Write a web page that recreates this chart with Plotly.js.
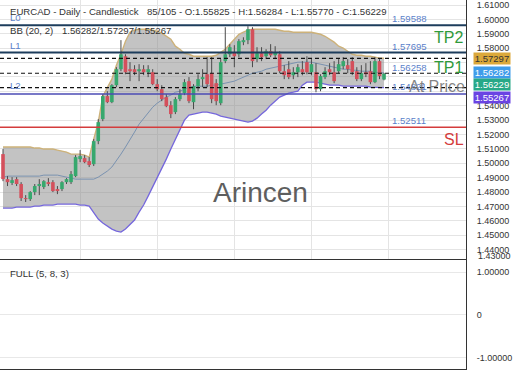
<!DOCTYPE html>
<html><head><meta charset="utf-8">
<script src="https://cdn.plot.ly/plotly-3.0.1.min.js"></script>
<style>html,body{margin:0;padding:0;background:#fff}#chart{width:520px;height:390px}</style>
</head><body><div id="chart"></div>
<script>
// ---- data ----
const openP = [1.5064,1.4890,1.4863,1.4890,1.4856,1.4758,1.4751,1.4800,1.4842,1.4835,
1.4869,1.4869,1.4821,1.4821,1.4869,1.4869,1.4911,1.5029,1.5036,1.5015,
1.4994,1.5154,1.5307,1.5467,1.5425,1.5543,1.5654,1.5744,1.5654,1.5654,
1.5640,1.5654,1.5633,1.5633,1.5550,1.5515,1.5460,1.5404,1.5356,1.5446,
1.5488,1.5571,1.5425,1.5536,1.5585,1.5619,1.5626,1.5557,1.5418,1.5710,
1.5758,1.5772,1.5758,1.5842,1.5856,1.5932,1.5724,1.5765,1.5744,1.5779,
1.5751,1.5758,1.5640,1.5654,1.5612,1.5633,1.5654,1.5703,1.5633,1.5633,
1.5515,1.5599,1.5654,1.5633,1.5640,1.5675,1.5682,1.5710,1.5640,1.5585,
1.5633,1.5640,1.5564,1.5710,1.55825];
const highP = [1.5099,1.4911,1.4904,1.4904,1.4869,1.4779,1.4807,1.4856,1.4890,1.4883,
1.4897,1.4883,1.4842,1.4876,1.4897,1.4946,1.5057,1.5092,1.5057,1.5043,
1.5168,1.5307,1.5481,1.5501,1.5550,1.5668,1.5856,1.5758,1.5703,1.5682,
1.5689,1.5682,1.5682,1.5654,1.5585,1.5543,1.5481,1.5432,1.5460,1.5515,
1.5585,1.5599,1.5550,1.5619,1.5654,1.5738,1.5738,1.5585,1.5724,1.5946,
1.5828,1.5821,1.5863,1.5876,1.5953,1.5946,1.5807,1.5807,1.5793,1.5828,
1.5814,1.5779,1.5682,1.5710,1.5668,1.5689,1.5710,1.5744,1.5724,1.5696,
1.5619,1.5668,1.5696,1.5710,1.5724,1.5738,1.5724,1.5738,1.5668,1.5682,
1.5696,1.5710,1.5738,1.5724,1.56284];
const lowP = [1.4876,1.4842,1.4849,1.4842,1.4738,1.4731,1.4738,1.4779,1.4779,1.4821,
1.4842,1.4800,1.4786,1.4807,1.4856,1.4856,1.4904,1.5008,1.5001,1.4974,
1.4981,1.5133,1.5293,1.5418,1.5418,1.5529,1.5640,1.5619,1.5571,1.5613,
1.5571,1.5613,1.5599,1.5543,1.5501,1.5432,1.5390,1.5314,1.5342,1.5432,
1.5474,1.5418,1.5376,1.5501,1.5529,1.5529,1.5418,1.5404,1.5404,1.5696,
1.5738,1.5668,1.5738,1.5821,1.5828,1.5668,1.5703,1.5710,1.5724,1.5738,
1.5724,1.5626,1.5585,1.5585,1.5585,1.5599,1.5612,1.5619,1.5612,1.5494,
1.5501,1.5585,1.5613,1.5557,1.5626,1.5654,1.5626,1.5613,1.5571,1.5571,
1.5599,1.5550,1.5557,1.5585,1.55770];
const closeP = [1.4890,1.4869,1.4883,1.4856,1.4758,1.4751,1.4800,1.4842,1.4856,1.4876,
1.4856,1.4807,1.4807,1.4869,1.4890,1.4925,1.5043,1.5050,1.5008,1.4988,
1.5154,1.5286,1.5467,1.5425,1.5543,1.5654,1.5758,1.5633,1.5640,1.5633,
1.5654,1.5633,1.5654,1.5550,1.5515,1.5446,1.5397,1.5342,1.5446,1.5481,
1.5564,1.5432,1.5536,1.5585,1.5599,1.5550,1.5446,1.5432,1.5703,1.5758,
1.5807,1.5744,1.5849,1.5856,1.5932,1.5710,1.5765,1.5738,1.5779,1.5751,
1.5772,1.5640,1.5612,1.5599,1.5633,1.5668,1.5633,1.5633,1.5689,1.5515,
1.5606,1.5640,1.5633,1.5571,1.5689,1.5710,1.5654,1.5633,1.5585,1.5626,
1.5619,1.5564,1.5710,1.5606,1.56229];
const bbUpper = [1.5113,1.5113,1.5113,1.5113,1.5113,1.5113,1.5113,1.5106,1.5106,1.5099,
1.5099,1.5099,1.5092,1.5085,1.5078,1.5064,1.5064,1.5064,1.5057,1.5043,
1.5168,1.5286,1.5467,1.5529,1.5585,1.5682,1.5758,1.5849,1.5911,1.5925,
1.5932,1.5932,1.5932,1.5925,1.5918,1.5904,1.5883,1.5863,1.5814,1.5793,
1.5765,1.5758,1.5744,1.5744,1.5744,1.5744,1.5744,1.5751,1.5772,1.5793,
1.5828,1.5863,1.5897,1.5911,1.5925,1.5932,1.5932,1.5932,1.5932,1.5932,
1.5932,1.5925,1.5918,1.5918,1.5911,1.5911,1.5911,1.5911,1.5911,1.5904,
1.5897,1.5883,1.5863,1.5842,1.5814,1.5800,1.5779,1.5758,1.5751,1.5751,
1.5744,1.5744,1.5738,1.5731,1.57297];
const bbMid = [1.4904,1.4911,1.4911,1.4911,1.4911,1.4911,1.4911,1.4911,1.4911,1.4918,
1.4918,1.4918,1.4918,1.4911,1.4904,1.4897,1.4890,1.4890,1.4890,1.4890,
1.4890,1.4904,1.4925,1.4946,1.4974,1.5015,1.5064,1.5113,1.5161,1.5217,
1.5272,1.5314,1.5356,1.5390,1.5418,1.5439,1.5460,1.5474,1.5494,1.5501,
1.5515,1.5529,1.5536,1.5536,1.5536,1.5536,1.5543,1.5543,1.5550,1.5557,
1.5564,1.5571,1.5585,1.5599,1.5613,1.5626,1.5633,1.5640,1.5654,1.5661,
1.5668,1.5675,1.5682,1.5689,1.5696,1.5703,1.5703,1.5703,1.5703,1.5696,
1.5689,1.5682,1.5675,1.5668,1.5661,1.5654,1.5654,1.5647,1.5647,1.5640,
1.5640,1.5640,1.5633,1.5633,1.56282];
const bbLower = [1.4689,1.4689,1.4689,1.4696,1.4696,1.4696,1.4696,1.4703,1.4703,1.4710,
1.4710,1.4710,1.4717,1.4717,1.4717,1.4717,1.4717,1.4710,1.4710,1.4703,
1.4654,1.4613,1.4585,1.4564,1.4543,1.4529,1.4522,1.4543,1.4571,1.4606,
1.4661,1.4710,1.4772,1.4835,1.4897,1.4960,1.5029,1.5099,1.5168,1.5238,
1.5300,1.5335,1.5342,1.5349,1.5356,1.5356,1.5349,1.5342,1.5328,1.5321,
1.5314,1.5307,1.5300,1.5293,1.5286,1.5293,1.5314,1.5342,1.5369,1.5404,
1.5432,1.5460,1.5474,1.5488,1.5494,1.5501,1.5543,1.5564,1.5564,1.5564,
1.5557,1.5550,1.5543,1.5543,1.5543,1.5536,1.5536,1.5536,1.5536,1.5536,
1.5536,1.5529,1.5529,1.5529,1.55267];
const levelL0 = 1.59588;
const levelL1 = 1.57695;
const levelTP1 = 1.56258;
const levelL2 = 1.54821;
const levelSL = 1.52511;
const dashedLevels = [1.57297, 1.56258, 1.55267];
const gridBars = [17, 34, 51, 68, 85];
const totalBars = 105;
const priceTicks = [1.44,1.45,1.46,1.47,1.48,1.49,1.50,1.51,1.52,1.53,1.54,1.55,1.56,1.57,1.58,1.59,1.60,1.61];
const hiddenPriceTicks = [1.55, 1.56, 1.57]; // covered by the value badges in the reference
const oscTicks = [-1, 0, 1];
const oscTickText = ['-1.00000', '0', '1.00000'];

// ---- build traces ----
const n = closeP.length;
const idx = closeP.map((_, i) => i);
const wx = [], wy = [], gx = [], gy = [], rx = [], ry = [];
for (let i = 0; i < n; i++) {
  wx.push(i, i, null); wy.push(lowP[i], highP[i], null);
  if (closeP[i] >= openP[i]) { gx.push(i, i, null); gy.push(openP[i], closeP[i], null); }
  else { rx.push(i, i, null); ry.push(openP[i], closeP[i], null); }
}
const FONT = 'Liberation Sans, Arial, sans-serif';
const traces = [
  {x: idx, y: bbLower, mode: 'lines', line: {color: '#7567dc', width: 1.3}, hoverinfo: 'skip'},
  {x: idx, y: bbUpper, mode: 'lines', fill: 'tonexty', fillcolor: 'rgba(135,135,135,0.5)', line: {color: '#cdb27a', width: 1.4}, hoverinfo: 'skip'},
  {x: idx, y: bbMid, mode: 'lines', line: {color: '#7a92b0', width: 1}, hoverinfo: 'skip'},
  {x: wx, y: wy, mode: 'lines', line: {color: '#4a4a4a', width: 1}, hoverinfo: 'skip'},
  {x: gx, y: gy, mode: 'lines', line: {color: '#37a86e', width: 3.6}, hoverinfo: 'skip'},
  {x: rx, y: ry, mode: 'lines', line: {color: '#d4505c', width: 3.6}, hoverinfo: 'skip'},
  {x: [0], y: [0], xaxis: 'x2', yaxis: 'y2', mode: 'markers', marker: {opacity: 0}, hoverinfo: 'skip'}
];

// ---- layout helpers ----
const W = 466, H = 369;
const px = v => v / W;
const py = v => 1 - v / H;
const levelShape = (y, color, width, dash) => ({type: 'line', xref: 'paper', yref: 'y', x0: 0, x1: 1, y0: y, y1: y, line: {color, width, dash: dash || 'solid'}});
const shapes = [
  levelShape(levelL0, '#1d3d5c', 2),
  levelShape(levelL1, '#1d3d5c', 2),
  levelShape(levelL2, '#4b4bb5', 1.5),
  levelShape(levelSL, '#d43c3c', 1.5),
  ...dashedLevels.map(v => levelShape(v, '#111', 1.2, '4px,3px'))
];
const txt = (text, x, y, opts) => Object.assign({text, xref: 'paper', yref: 'paper', x: px(x), y: py(y), xanchor: 'left', yanchor: 'middle', showarrow: false, font: {family: FONT, size: 9.6, color: '#333'}}, opts || {});
const lvlTxt = (text, x, yv, shift, opts) => Object.assign({text, xref: 'paper', yref: 'y', x: px(x), y: yv, yshift: shift, xanchor: 'left', yanchor: 'middle', showarrow: false, font: {family: FONT, size: 9.6, color: '#5b7fca'}}, opts || {});
const badge = (val, bg, fg, shift) => ({text: val.toFixed(5), xref: 'paper', yref: 'y', x: px(473), y: val, yshift: shift, xanchor: 'left', yanchor: 'middle', showarrow: false, bgcolor: bg, width: 36, height: 11, borderpad: 0, font: {family: FONT, size: 9.5, color: fg}});
const last = n - 1;
const annotations = [
  txt('L0', 8, 17, {font: {family: FONT, size: 9.6, color: '#5b7fca'}}),
  txt('L1', 8, 45, {font: {family: FONT, size: 9.6, color: '#5b7fca'}}),
  txt('L2', 8, 86, {font: {family: FONT, size: 9.6, color: '#5b7fca'}}),
  txt('EURCAD - Daily - Candlestick', 8, 12),
  txt(`${n}/${totalBars} - O:${openP[last].toFixed(5)} - H:${highP[last].toFixed(5)} - L:${lowP[last].toFixed(5)} - C:${closeP[last].toFixed(5)}`, 145, 12),
  txt('BB (20, 2)', 8, 30),
  txt(`${bbMid[last].toFixed(5)}/${bbUpper[last].toFixed(5)}/${bbLower[last].toFixed(5)}`, 60, 30),
  lvlTxt(levelL0.toFixed(5), 390, levelL0, 7),
  lvlTxt(levelL1.toFixed(5), 390, levelL1, 6),
  lvlTxt(levelTP1.toFixed(5), 390, levelTP1, 6),
  lvlTxt(levelL2.toFixed(5), 390, levelL2, 7),
  lvlTxt(levelSL.toFixed(5), 390, levelSL, 7),
  lvlTxt('TP2', 432, levelL1, 15, {font: {family: FONT, size: 16, color: '#2f9a3a'}}),
  lvlTxt('TP1', 432, levelTP1, 6, {font: {family: FONT, size: 16, color: '#2f9a3a'}}),
  lvlTxt('At Price', 407, levelL2, 7, {font: {family: FONT, size: 16, color: 'rgba(110,110,110,0.85)'}}),
  lvlTxt('SL', 442, levelSL, -12, {font: {family: FONT, size: 16, color: '#d43c3c'}}),
  txt('Arincen', 260, 193, {xanchor: 'center', font: {family: FONT, size: 28, color: '#5e5e5e'}}),
  badge(bbUpper[last], '#dba83a', '#333', 0),
  badge(bbMid[last], '#3f9cea', '#fff', 0),
  badge(closeP[last], '#27a887', '#fff', -10.5),
  badge(bbLower[last], '#6a44e3', '#fff', -9.5),
  txt('1.43000', 476, 256, {font: {family: FONT, size: 9, color: '#333'}}),
  txt('FULL (5, 8, 3)', 8, 273)
];

const layout = {
  width: 520, height: 390,
  margin: {l: 0, r: 54, t: 0, b: 21, pad: 0},
  paper_bgcolor: '#fff', plot_bgcolor: '#fff',
  showlegend: false,
  font: {family: FONT, color: '#333'},
  xaxis: {domain: [0, 1], anchor: 'y', range: [-0.661, 102.07], showticklabels: false, tickvals: gridBars, ticks: '', showgrid: true, gridcolor: '#e4e4e4', zeroline: false, showline: false, fixedrange: true},
  yaxis: {domain: [1 - 259 / H, 1], anchor: 'x', range: [1.4335, 1.6135], side: 'right', tickvals: priceTicks,
    ticktext: priceTicks.map(v => hiddenPriceTicks.includes(v) ? '' : v.toFixed(5)),
    ticks: '', ticklabelstandoff: 8, tickfont: {family: FONT, size: 9, color: '#333'}, showgrid: true, gridcolor: '#e4e4e4', zeroline: false, showline: true, linecolor: '#333', linewidth: 1, fixedrange: true},
  xaxis2: {domain: [0, 1], anchor: 'y2', range: [-0.661, 102.07], showticklabels: false, showgrid: false, zeroline: false, showline: true, mirror: true, linecolor: '#333', linewidth: 1, ticks: '', fixedrange: true},
  yaxis2: {domain: [0, 1 - 260 / H], anchor: 'x2', range: [-1.256, 1.279], side: 'right', tickvals: oscTicks, ticktext: oscTickText, ticks: '', ticklabelstandoff: 8, tickfont: {family: FONT, size: 9, color: '#333'}, showgrid: true, gridcolor: '#e8e8e8', zeroline: false, showline: true, linecolor: '#333', linewidth: 1, fixedrange: true},
  shapes, annotations
};
Plotly.newPlot('chart', traces, layout, {displayModeBar: false, staticPlot: true});
</script></body></html>
